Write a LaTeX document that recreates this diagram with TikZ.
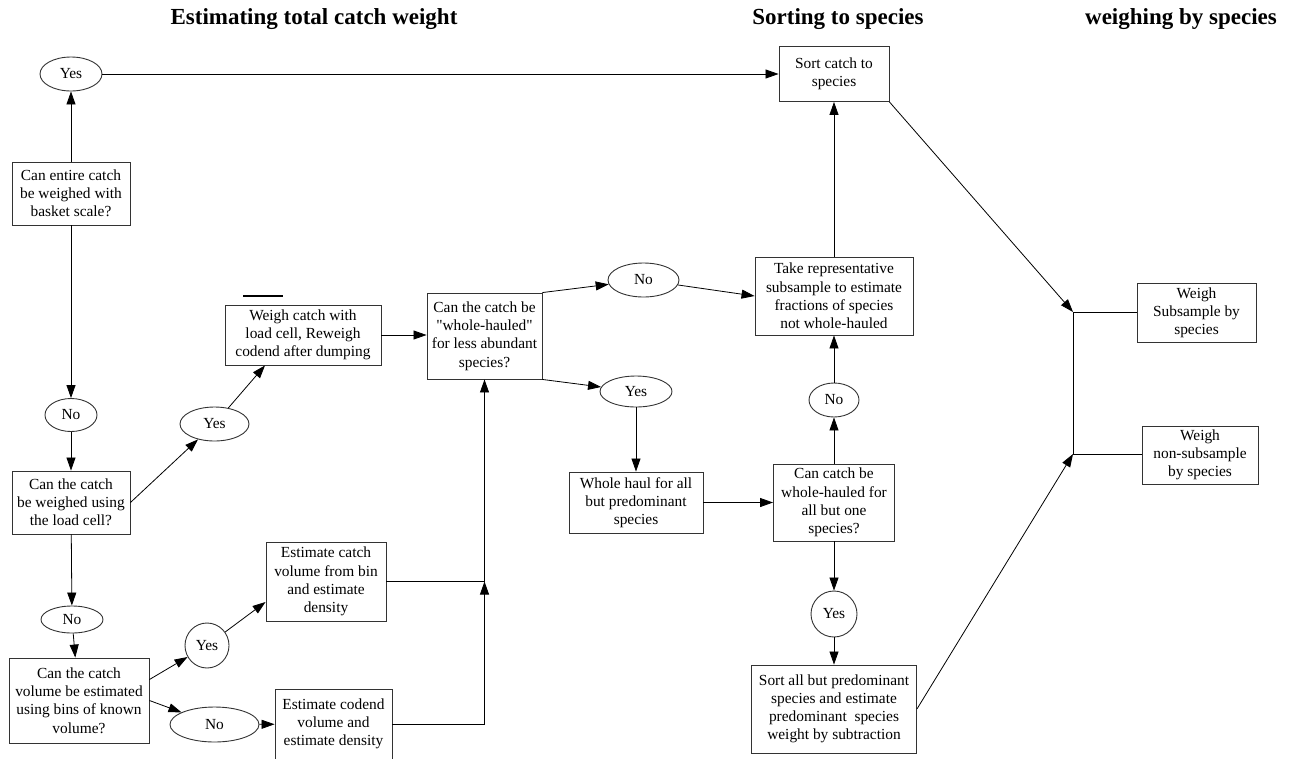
\documentclass[tikz,border=0pt]{standalone}
\usepackage{fontspec}
\setmainfont{Liberation Serif}
\usetikzlibrary{shapes.geometric,arrows.meta,positioning,calc}
\newcommand{\plainquote}{\XeTeXglyph\XeTeXcharglyph"22\relax}

\begin{document}
\begin{tikzpicture}[
    x=1pt, y=-1pt,
    box/.style={rectangle, draw=black!80, line width=0.9pt, inner sep=1pt,
                align=center, font=\fontsize{15.4}{18.2}\selectfont},
    choice/.style={ellipse, draw=black!80, line width=0.9pt, inner sep=0pt,
                   font=\fontsize{15.4}{18.2}\selectfont},
    arrow/.style={-{Triangle[length=13pt,width=9pt]}, line width=0.8pt},
    link/.style={line width=0.8pt},
    heading/.style={font=\fontsize{23}{26}\selectfont\bfseries}
]
\useasboundingbox (0,0) rectangle (1298,758);

% Headings
\node[heading] (h0) at (314,19) {Estimating total catch weight};
\node[heading] (h1) at (838,19) {Sorting to species};
\node[heading] (h2) at (1181,19) {weighing by species};

% Column 1: total catch weight
\node[choice, minimum width=62, minimum height=34] (yes1) at (71,74) {Yes};
\node[box, minimum width=118, minimum height=63] (q1) at (71,193.5) {Can entire catch\\be weighed with\\basket scale?};
\node[choice, minimum width=52, minimum height=33] (no1) at (71,415) {No};
\node[box, minimum width=118, minimum height=63] (lc) at (71,502.5) {Can the catch\\be weighed using\\the load cell?};
\node[choice, minimum width=69, minimum height=34] (yes2) at (214.5,424) {Yes};
\node[box, minimum width=156, minimum height=60] (weigh) at (303,335) {Weigh catch with\\load cell, Reweigh\\codend after dumping};
\node[choice, minimum width=62, minimum height=27] (no2) at (72,619.5) {No};
\node[box, minimum width=140, minimum height=85] (vol) at (79,700.5) {Can the catch\\volume be estimated\\using bins of known\\volume?};
\node[choice, minimum width=44, minimum height=45] (yes3) at (207,645.5) {Yes};
\node[box, minimum width=120, minimum height=79] (est1) at (326,581.5) {Estimate catch\\volume from bin\\and estimate\\density};
\node[choice, minimum width=89, minimum height=35] (no3) at (214.5,724.5) {No};
\node[box, minimum width=117, minimum height=70] (est2) at (333.5,724) {Estimate codend\\volume and\\estimate density};
\draw[line width=2pt] (243,296) -- (283,296);

% Column 2: sorting to species
\node[box, minimum width=115, minimum height=86] (wh) at (484.5,336) {Can the catch be\\\plainquote whole-hauled\plainquote\\for less abundant\\species?};
\node[choice, minimum width=71, minimum height=34] (no4) at (643.5,280) {No};
\node[choice, minimum width=72, minimum height=31] (yes4) at (636,391.5) {Yes};
\node[box, minimum width=134, minimum height=61] (whb) at (636,502.5) {Whole haul for all\\but predominant\\species};
\node[box, minimum width=110, minimum height=55] (sortc) at (834,74) {Sort catch to\\species};
\node[box, minimum width=158, minimum height=78] (take) at (834,296) {Take representative\\subsample to estimate\\fractions of species\\not whole-hauled};
\node[choice, minimum width=50, minimum height=34] (no5) at (834,400) {No};
\node[box, minimum width=121, minimum height=77] (q5) at (834,502.5) {Can catch be\\whole-hauled for\\all but one\\species?};
\node[choice, minimum width=46, minimum height=46] (yes5) at (834,614) {Yes};
\node[box, minimum width=165, minimum height=88] (sab) at (834,709) {Sort all but predominant\\species and estimate\\predominant\ \ species\\weight by subtraction};

% Column 3: weighing by species
\node[box, minimum width=119, minimum height=59] (wsub) at (1196.5,312.5) {Weigh\\Subsample by\\species};
\node[box, minimum width=116, minimum height=58] (wnon) at (1200,455) {Weigh\\non-subsample\\by species};
\coordinate (jt) at (1073,312);
\coordinate (jb) at (1073,454);
\coordinate (j1) at (wh.south |- est1.east);
\coordinate (j2) at (wh.south |- est2.east);

% Arrows
\draw[arrow] (q1) -- (yes1);
\draw[arrow] (yes1) -- (sortc);
\draw[arrow] (q1) -- (no1);
\draw[arrow] (no1) -- (lc);
\draw[arrow] (lc.east) -- (yes2);
\draw[arrow] (yes2) -- ([xshift=-38pt]weigh.south);
\draw[arrow] (weigh.east) -- (wh.west |- weigh.east);
\draw[arrow] (lc) -- (no2);
\draw[arrow] (no2) -- (vol);
\draw[arrow] ([yshift=21pt]vol.east) -- (yes3);
\draw[arrow] (vol.east) -- (no3);
\draw[arrow] (yes3) -- ([yshift=-20.5pt]est1.west);
\draw[arrow] (no3) -- (est2);
\draw[link] (est2.east) -- (j2);
\draw[arrow] (j2) -- (j1);
\draw[link] (est1.east) -- (j1);
\draw[arrow] (j1) -- (wh.south);
\draw[arrow] (wh.north east) -- (no4);
\draw[arrow] (no4) -- (take.west);
\draw[arrow] (wh.south east) -- (yes4);
\draw[arrow] (yes4) -- (whb);
\draw[arrow] (whb.east) -- (q5.west |- whb.east);
\draw[arrow] (q5) -- (no5);
\draw[arrow] (no5) -- (take);
\draw[arrow] (take) -- (sortc);
\draw[arrow] (q5) -- (yes5);
\draw[arrow] (yes5) -- (sab);
\draw[arrow] (sortc.south east) -- (jt);
\draw[arrow] (sab.east) -- (jb);
\draw[link] (jt) -- (jb);
\draw[link] (jt) -- (jt -| wsub.west);
\draw[link] (jb) -- (jb -| wnon.west);
\end{tikzpicture}
\end{document}
